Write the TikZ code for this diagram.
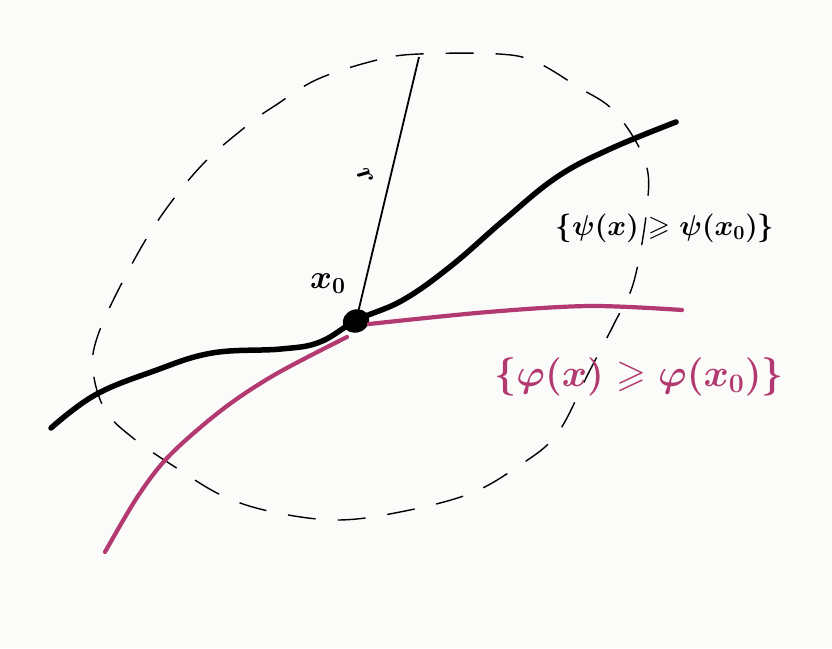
\documentclass[tikz,border=0pt]{standalone}
\usepackage{amssymb}
\usetikzlibrary{shapes.geometric}
\definecolor{mag}{RGB}{178,58,112}
\definecolor{bg}{RGB}{251,251,250}
\begin{document}
\begin{tikzpicture}[x=1pt,y=-1pt,
  ballline/.style={line width=1.4pt,dash pattern=on 28pt off 22pt},
  psicurve/.style={line width=5.5pt,line cap=round,line join=round},
  phicurve/.style={mag,line width=4.2pt,line cap=round,line join=round},
  radline/.style={line width=1.8pt},
  lab/.style={inner sep=0pt,font=\huge\boldmath},
]
\fill[bg] (0,0) rectangle (832,648);
\useasboundingbox (0,0) rectangle (832,648);
% dashed ball
\draw[ballline] plot[smooth cycle,tension=0.6] coordinates {
  (419,54) (377,60) (318,79) (276,105) (249,124) (202,165) (159,219) (125,277) (98,335) (93,370)
  (105,410) (133,438) (175,467) (223,496) (273,512) (337,520) (400,512) (469,494) (517,467)
  (557,434) (589,372) (615,322) (634,281) (647,207) (645,161) (615,112) (578,87) (536,62) (499,54)};
% point x0
\node[ellipse,fill=black,minimum width=27pt,minimum height=23pt,inner sep=0pt,rotate=20] (x0) at (356,321) {};
\coordinate (rtop) at (419,57);
% radius
\draw[radline] (x0.center) -- (rtop);
% black curve
\draw[psicurve] plot[smooth,tension=0.65] coordinates {(51,428) (95,395) (154,371) (212,353) (281,349) (320,342) (357,320) (403,300) (451,266) (504,220) (557,177) (610,149) (676,122)};
% magenta curve
\draw[phicurve] plot[smooth,tension=0.55] coordinates {(105,552) (138,496) (170,455) (223,409) (276,374) (347,337)};
\draw[phicurve] plot[smooth,tension=0.55] coordinates {(369,324) (488,312) (590,306) (682,310)};
% labels
\node[lab] (lx0) at (328,284) {\scalebox{1.6}{$x_0$}};
\node[lab,rotate=-60] (lr) at (365,176) {\scalebox{1.4}{$r$}};
\node[lab] (lpsi) at (665,228) {\scalebox{1.38}{$\{\psi(x)\geqslant\psi(x_0)\}$}};
\node[lab,text=mag] (lphi) at (639,377) {\scalebox{1.85}{$\{\varphi(x)\geqslant\varphi(x_0)\}$}};
\end{tikzpicture}
\end{document}
